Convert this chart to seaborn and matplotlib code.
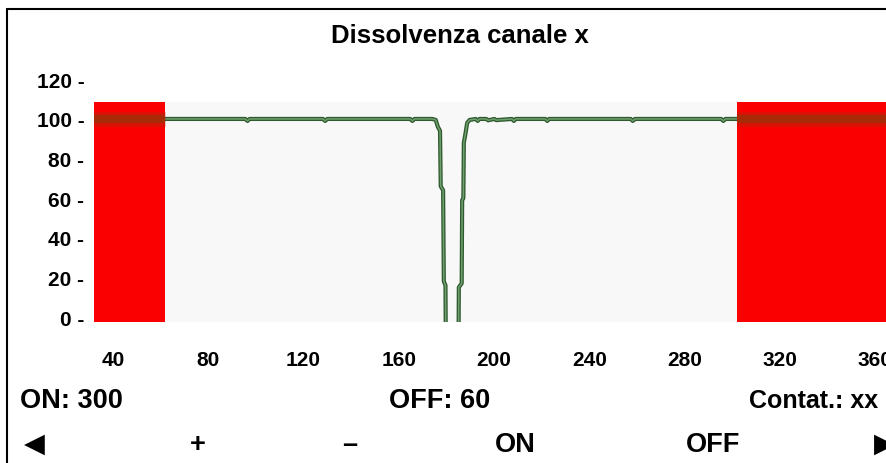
import matplotlib
matplotlib.use("Agg")
import matplotlib.pyplot as plt
import matplotlib.patheffects as pe
import matplotlib.transforms as mtransforms
from matplotlib.lines import Line2D
import seaborn as sns
import pandas as pd

# dati
x_vals = [30, 60, 93.5, 94.4, 95.3, 126.1, 127.0, 127.9, 162.7, 163.6, 164.5,
          172.0, 173.4, 174.3, 175.2, 175.5, 176.5, 176.8, 177.5, 177.6,
          183.0, 183.1, 184.3, 184.5, 185.0, 185.2, 185.8, 186.6, 187.6,
          190.2, 191.0, 191.8, 194.6, 195.4, 198.0, 198.8, 205.4, 206.2, 207.0,
          219.4, 220.2, 221.0, 255.2, 256.1, 257.0, 293.2, 294.1, 295.0, 300, 370]
y_vals = [100, 100, 100, 99, 100, 100, 99, 100, 100, 99, 100,
          100, 99.5, 96, 94, 66, 64, 18, 16, -8,
          -8, 15, 17, 59, 60, 88, 92, 98, 99.5,
          100, 99, 100, 100, 99.3, 100, 99.4, 100, 99, 100,
          100, 99, 100, 100, 99, 100, 100, 99, 100, 100, 100]

off_value = 60
on_value = 300
counter_text = "xx"
title = "Dissolvenza canale x"
x_ticks = [40, 80, 120, 160, 200, 240, 280, 320, 360]
y_ticks = [0, 20, 40, 60, 80, 100, 120]
buttons = ["◀", "+", "–", "ON", "OFF", "▶"]

df = pd.DataFrame({"t": x_vals, "v": y_vals})

sns.set_theme(style="white")
plt.rcParams["font.family"] = ["Liberation Sans", "DejaVu Sans"]
plt.rcParams["font.weight"] = "bold"
plt.rcParams["text.color"] = "black"
plt.rcParams["xtick.color"] = "black"
plt.rcParams["ytick.color"] = "black"

W, H = 887, 464
fig = plt.figure(figsize=(W / 100, H / 100), dpi=100)

x0, x1 = 30, 370
y0, y1 = -2.5, 125
band_top = 108.6
px_x = 2.383
px_y = 1.981
left = 94 / W
width = (x1 - x0) * px_x / W
bottom = (H - 323) / H
height = (y1 - y0) * px_y / H
ax = fig.add_axes([left, bottom, width, height])
ax.set_xlim(x0, x1)
ax.set_ylim(y0, y1)
ax.patch.set_alpha(0)
for s in ax.spines.values():
    s.set_visible(False)

frac = (band_top - y0) / (y1 - y0)
ax.axvspan(x0, x1, ymin=0, ymax=frac, color="#f9f8f9", lw=0, zorder=0)
ax.axvspan(x0, off_value, ymin=0, ymax=frac, color="#fa0000", lw=0, zorder=3)
ax.axvspan(on_value, x1, ymin=0, ymax=frac, color="#fa0000", lw=0, zorder=3)

sns.lineplot(data=df, x="t", y="v", ax=ax, color="#6f9f6f", lw=1.1,
             sort=False, zorder=2)
ax.lines[-1].set_path_effects([pe.Stroke(linewidth=3.0, foreground="#2f5a2f"),
                               pe.Normal()])
# traccia sfocata sopra le zone rosse
for part in [df[df.t <= off_value], df[df.t >= on_value]]:
    sns.lineplot(data=part, x="t", y="v", ax=ax, color="#c02008", lw=11,
                 alpha=0.5, sort=False, zorder=4, solid_capstyle="butt")
    sns.lineplot(data=part, x="t", y="v", ax=ax, color="#9a3208", lw=6,
                 alpha=0.8, sort=False, zorder=4, solid_capstyle="butt")

ax.set_xticks(x_ticks)
ax.set_xticklabels([str(v) for v in x_ticks])
ax.set_yticks(y_ticks)
ax.set_yticklabels([f"{v} -" for v in y_ticks])
ax.tick_params(axis="both", length=0, labelsize=15)
ax.tick_params(axis="y", pad=7)
ax.tick_params(axis="x", pad=20)
shift = mtransforms.ScaledTranslation(-5 / 100, 0, fig.dpi_scale_trans)
for lab in ax.get_xticklabels():
    lab.set_transform(lab.get_transform() + shift)
for lab in ax.get_xticklabels() + ax.get_yticklabels():
    lab.set_fontweight("bold")
ax.set_xlabel("")
ax.set_ylabel("")

fig.text(460 / W, 1 - 36 / H, title, ha="center", va="center",
         fontsize=18.5, fontweight="bold")

fs = 19.5
fig.text(20 / W, 1 - 401 / H, f"ON: {on_value}", ha="left", va="center",
         fontsize=fs, fontweight="bold")
fig.text(440 / W, 1 - 401 / H, f"OFF: {off_value}", ha="center", va="center",
         fontsize=fs, fontweight="bold")
fig.text(749 / W, 1 - 401 / H, f"Contat.: {counter_text}", ha="left", va="center",
         fontsize=18, fontweight="bold")

btn_x = [34, 198, 350, 515, 713, 884]
for bx, b in zip(btn_x, buttons):
    fig.text(bx / W, 1 - 445 / H, b, ha="center", va="center",
             fontsize=fs, fontweight="bold",
             family=["Liberation Sans", "DejaVu Sans"])

fig.add_artist(Line2D([7 / W, 7 / W], [0, 1 - 10 / H], color="black", lw=1.5))
fig.add_artist(Line2D([7 / W, 1], [1 - 10 / H, 1 - 10 / H], color="black", lw=1.5))

fig.savefig("out.png", dpi=100)
